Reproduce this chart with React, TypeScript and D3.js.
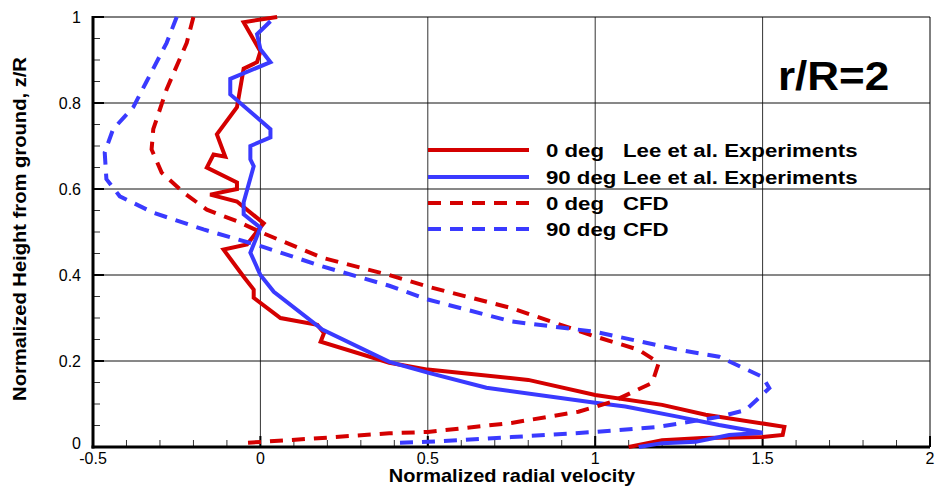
import React from "react";
import * as d3 from "d3";

// Radial velocity profiles at r/R = 2: [normalized radial velocity, z/R]
const exp0deg: [number, number][] = [
  [0.05, 1.0], [-0.05, 0.988], [0.0, 0.92], [-0.01, 0.895], [-0.05, 0.88],
  [-0.07, 0.79], [-0.13, 0.727], [-0.105, 0.675], [-0.14, 0.68], [-0.16, 0.65],
  [-0.07, 0.615], [-0.07, 0.6], [-0.15, 0.587], [-0.07, 0.571], [0.01, 0.52],
  [-0.01, 0.501], [-0.04, 0.471], [-0.11, 0.459], [-0.05, 0.396], [-0.02, 0.366],
  [-0.02, 0.347], [0.06, 0.3], [0.17, 0.284], [0.19, 0.265], [0.18, 0.245],
  [0.385, 0.196], [0.5, 0.18], [0.8, 0.156], [1.0, 0.121], [1.2, 0.098],
  [1.33, 0.075], [1.565, 0.047], [1.56, 0.028], [1.5, 0.023], [1.32, 0.021],
  [1.2, 0.016], [1.1, 0.0],
];

const exp90deg: [number, number][] = [
  [0.03, 0.99], [-0.01, 0.96], [0.0, 0.925], [0.03, 0.895], [-0.09, 0.856],
  [-0.09, 0.82], [0.03, 0.739], [0.03, 0.72], [-0.03, 0.7], [-0.03, 0.669],
  [-0.02, 0.653], [-0.05, 0.569], [-0.05, 0.541], [0.0, 0.51], [-0.03, 0.452],
  [0.0, 0.4], [0.04, 0.361], [0.185, 0.273], [0.385, 0.198], [0.5, 0.173],
  [0.675, 0.138], [1.0, 0.103], [1.09, 0.094], [1.25, 0.07], [1.37, 0.051],
  [1.5, 0.033], [1.4, 0.028], [1.3, 0.012], [1.2, 0.009], [1.13, 0.0],
];

const cfd0deg: [number, number][] = [
  [-0.2, 1.0], [-0.22, 0.94], [-0.28, 0.832], [-0.32, 0.739], [-0.325, 0.692],
  [-0.295, 0.638], [-0.23, 0.592], [-0.16, 0.552], [-0.07, 0.525], [0.006, 0.498],
  [0.185, 0.44], [0.385, 0.4], [0.5, 0.373], [0.75, 0.323], [1.0, 0.257],
  [1.13, 0.226], [1.19, 0.196], [1.17, 0.149], [1.05, 0.105], [0.95, 0.082],
  [0.75, 0.056], [0.5, 0.035], [0.385, 0.032], [0.185, 0.021], [0.006, 0.012],
  [-0.04, 0.01],
];

const cfd90deg: [number, number][] = [
  [-0.25, 1.0], [-0.28, 0.94], [-0.34, 0.85], [-0.38, 0.79], [-0.44, 0.739],
  [-0.465, 0.685], [-0.46, 0.623], [-0.42, 0.583], [-0.32, 0.545], [-0.17, 0.506],
  [0.006, 0.466], [0.185, 0.42], [0.385, 0.375], [0.5, 0.343], [0.75, 0.292],
  [1.0, 0.268], [1.25, 0.226], [1.37, 0.21], [1.5, 0.163], [1.52, 0.137],
  [1.45, 0.086], [1.37, 0.07], [1.19, 0.047], [1.0, 0.035], [0.75, 0.023],
  [0.5, 0.012], [0.39, 0.009],
];

const xTicks = [-0.5, 0, 0.5, 1, 1.5, 2];
const xTickLabels = ["-0.5", "0", "0.5", "1", "1.5", "2"];
const yTicks = [0, 0.2, 0.4, 0.6, 0.8, 1];
const yTickLabels = ["0", "0.2", "0.4", "0.6", "0.8", "1"];

const legendCol1 = ["0 deg", "90 deg", "0 deg", "90 deg"];
const legendCol2 = ["Lee et al. Experiments", "Lee et al. Experiments", "CFD", "CFD"];

const RED = "#d40000";
const BLUE = "#3a3aff";
const FONT = "'Liberation Sans', Arial, Helvetica, sans-serif";

// Bold text rendered slightly wider than the stock font, as in the plotting tool
function WideText(props: {
  x?: number;
  y?: number;
  size: number;
  stretch: number;
  anchor?: "start" | "middle" | "end";
  transform?: string;
  children: string;
}) {
  const { x = 0, y = 0, size, stretch, anchor = "start", transform, children } = props;
  return (
    <g transform={`${transform || ""} translate(${x}, ${y}) scale(${stretch}, 1)`}>
      <text x={0} y={0} fontFamily={FONT} fontSize={size} fontWeight="bold" textAnchor={anchor}>
        {children}
      </text>
    </g>
  );
}

export default function App() {
  const W = 935;
  const H = 489;
  const left = 93, right = 930, top = 17, bottom = 447;

  const x = d3.scaleLinear().domain([-0.5, 2]).range([left, right]);
  const y = d3.scaleLinear().domain([0, 1]).range([bottom, top]);

  const line = d3
    .line<[number, number]>()
    .x((d) => x(d[0]))
    .y((d) => y(d[1]));

  const xMinor = d3.range(-0.5, 2.0001, 0.1).map((v) => +v.toFixed(2));
  const yMinor = d3.range(0, 1.0001, 0.05).map((v) => +v.toFixed(2));

  const series = [
    { data: exp0deg, color: RED, dash: undefined as string | undefined },
    { data: exp90deg, color: BLUE, dash: undefined as string | undefined },
    { data: cfd0deg, color: RED, dash: "13 9" },
    { data: cfd90deg, color: BLUE, dash: "13 9" },
  ];

  const legendY = [150, 177, 203, 229];

  return (
    <div style={{ position: "absolute", left: 0, top: 0 }}>
      <svg width={W} height={H} style={{ display: "block", background: "#fff" }}>
        {/* grid */}
        {[0, 0.5, 1, 1.5].map((v) => (
          <line key={"gx" + v} x1={x(v)} x2={x(v)} y1={top} y2={bottom} stroke="#333" strokeWidth={1} />
        ))}
        {[0.2, 0.4, 0.6, 0.8].map((v) => (
          <line key={"gy" + v} x1={left} x2={right} y1={y(v)} y2={y(v)} stroke="#111" strokeWidth={1} />
        ))}

        {/* minor ticks */}
        {xMinor.map((v) => (
          <line key={"mx" + v} x1={x(v)} x2={x(v)} y1={bottom} y2={bottom - 7} stroke="#333" strokeWidth={1} />
        ))}
        {yMinor.map((v) => (
          <line key={"my" + v} x1={left} x2={left + 7} y1={y(v)} y2={y(v)} stroke="#333" strokeWidth={1} />
        ))}
        {/* major ticks */}
        {xTicks.map((v) => (
          <line key={"Mx" + v} x1={x(v)} x2={x(v)} y1={bottom} y2={bottom - 11} stroke="#000" strokeWidth={2} />
        ))}
        {yTicks.map((v) => (
          <line key={"My" + v} x1={left} x2={left + 11} y1={y(v)} y2={y(v)} stroke="#000" strokeWidth={2} />
        ))}

        {/* frame */}
        <line x1={left} x2={right} y1={top} y2={top} stroke="#000" strokeWidth={1} />
        <line x1={right} x2={right} y1={top} y2={bottom} stroke="#000" strokeWidth={1} />
        <line x1={left} x2={left} y1={top - 1} y2={bottom + 1.5} stroke="#000" strokeWidth={3} />
        <line x1={left - 1.5} x2={right} y1={bottom} y2={bottom} stroke="#000" strokeWidth={3} />

        {/* data */}
        {series.map((s, i) => (
          <path
            key={"s" + i}
            d={line(s.data) || ""}
            fill="none"
            stroke={s.color}
            strokeWidth={4}
            strokeDasharray={s.dash}
            strokeLinejoin="miter"
          />
        ))}

        {/* tick labels */}
        {xTicks.map((v, i) => (
          <text key={"tx" + v} x={x(v)} y={bottom + 17} fontFamily={FONT} fontSize={16} textAnchor="middle">
            {xTickLabels[i]}
          </text>
        ))}
        {yTicks.map((v, i) => (
          <text
            key={"ty" + v}
            x={left - 12}
            y={y(v) + (v === 0 ? 2 : 6)}
            fontFamily={FONT}
            fontSize={16}
            textAnchor="end"
          >
            {yTickLabels[i]}
          </text>
        ))}

        {/* axis titles */}
        <WideText x={512} y={482} size={18} stretch={1.11} anchor="middle">
          Normalized radial velocity
        </WideText>
        <WideText transform="translate(26, 229) rotate(-90)" size={18} stretch={1.12} anchor="middle">
          Normalized Height from ground, z/R
        </WideText>

        {/* station label */}
        <WideText x={778} y={90} size={40} stretch={1.1}>
          r/R=2
        </WideText>

        {/* legend */}
        {series.map((s, i) => (
          <g key={"lg" + i}>
            <line
              x1={428}
              x2={529}
              y1={legendY[i]}
              y2={legendY[i]}
              stroke={s.color}
              strokeWidth={4}
              strokeDasharray={s.dash}
            />
            <WideText x={546} y={legendY[i] + 7} size={19} stretch={1.17}>
              {legendCol1[i]}
            </WideText>
            <WideText x={623} y={legendY[i] + 7} size={19} stretch={1.17}>
              {legendCol2[i]}
            </WideText>
          </g>
        ))}
      </svg>
    </div>
  );
}
